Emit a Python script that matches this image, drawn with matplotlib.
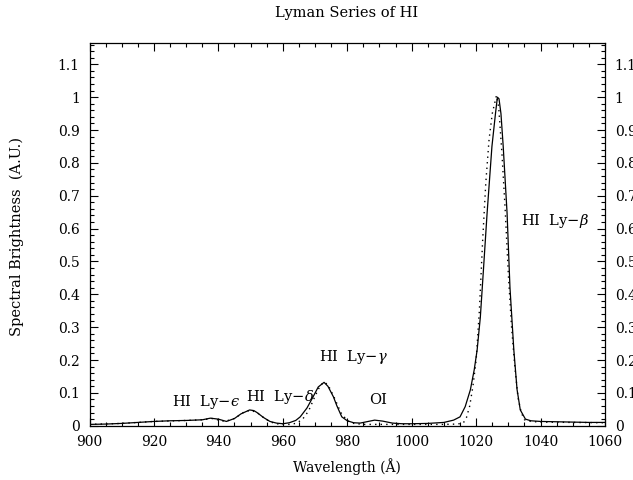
import numpy as np
import matplotlib
matplotlib.use('Agg')
import matplotlib.pyplot as plt
from matplotlib.ticker import MultipleLocator, FormatStrFormatter

# Observed spectrum (solid line)
wave_obs = [900, 905, 910, 915, 920, 925, 930, 935, 937.5, 940, 942.5, 945, 947,
            949.7, 951, 952, 954, 956, 958, 960, 962, 964, 965.4, 967.5, 969.5,
            971, 972.8, 974, 975.7, 976.8, 978.3, 980, 982, 984, 986, 988.5, 991,
            994, 997, 1000, 1005, 1010, 1013, 1015, 1016.6, 1018.2, 1019.4, 1020.3,
            1021.3, 1022.3, 1023.4, 1024.9, 1026, 1026.6, 1027.1, 1027.7, 1028.4,
            1029.6, 1030.5, 1031.7, 1032.7, 1033.7, 1035.3, 1037, 1040, 1045, 1050,
            1055, 1060]
flux_obs = [0.004, 0.005, 0.007, 0.010, 0.013, 0.015, 0.016, 0.018, 0.023, 0.020,
            0.013, 0.022, 0.036, 0.048, 0.046, 0.040, 0.025, 0.013, 0.008, 0.006,
            0.009, 0.016, 0.027, 0.054, 0.090, 0.118, 0.132, 0.120, 0.088, 0.060,
            0.027, 0.015, 0.009, 0.008, 0.012, 0.017, 0.014, 0.008, 0.006, 0.006,
            0.007, 0.010, 0.017, 0.027, 0.058, 0.109, 0.170, 0.230, 0.330, 0.480,
            0.647, 0.850, 0.950, 1.000, 0.995, 0.950, 0.850, 0.647, 0.420, 0.230,
            0.110, 0.048, 0.020, 0.015, 0.013, 0.012, 0.011, 0.010, 0.010]

# Model spectrum (dotted line)
wave_mod = [900, 910, 920, 930, 935, 938, 942, 945, 948, 950, 952, 954, 956, 958,
            960, 962, 964, 966, 968, 970, 971.5, 972.7, 974, 976, 978, 980, 982,
            985, 990, 1000, 1010, 1014, 1016, 1017, 1018, 1019, 1020, 1021, 1022,
            1023, 1024, 1025, 1026.3, 1027, 1028, 1029, 1030, 1031, 1032, 1033,
            1034, 1035, 1037, 1040, 1050, 1060]
flux_mod = [0.004, 0.007, 0.013, 0.016, 0.018, 0.022, 0.013, 0.022, 0.042, 0.047,
            0.040, 0.025, 0.012, 0.006, 0.004, 0.004, 0.007, 0.018, 0.045, 0.090,
            0.120, 0.133, 0.125, 0.085, 0.040, 0.015, 0.007, 0.004, 0.004, 0.004,
            0.004, 0.005, 0.008, 0.025, 0.060, 0.120, 0.200, 0.350, 0.560, 0.740,
            0.870, 0.950, 1.005, 0.970, 0.830, 0.660, 0.460, 0.300, 0.180, 0.085,
            0.040, 0.018, 0.013, 0.011, 0.010, 0.009]

# Line labels
label_text = ['HI  Ly$-ϵ$', r'HI  Ly$-\delta$', r'HI  Ly$-\gamma$',
              'OI', r'HI  Ly$-\beta$']
label_x = [936.1, 959.2, 982.0, 989.5, 1044.6]
label_y = [0.072, 0.086, 0.210, 0.078, 0.623]

plt.rcParams['font.family'] = ['DejaVu Serif']
plt.rcParams['mathtext.fontset'] = 'dejavuserif'

fig = plt.figure(figsize=(6.33, 4.8), dpi=100)
ax = fig.add_axes([0.1414, 0.1131, 0.8144, 0.7967])

ax.plot(wave_obs, flux_obs, color='black', lw=0.9)
ax.plot(wave_mod, flux_mod, color='black', lw=1.0, linestyle=(0, (1, 3)))

for t, x, y in zip(label_text, label_x, label_y):
    ax.text(x, y, t, fontsize=10.5, ha='center', va='center')

ax.set_xlim(900, 1060)
ax.set_ylim(0, 1.164)

ax.xaxis.set_major_locator(MultipleLocator(20))
ax.xaxis.set_minor_locator(MultipleLocator(5))
ax.yaxis.set_major_locator(MultipleLocator(0.1))
ax.yaxis.set_minor_locator(MultipleLocator(0.02))
ax.yaxis.set_major_formatter(FormatStrFormatter('%g'))

ax.tick_params(which='both', direction='in', top=True, right=True,
               labelright=True, labelsize=10, width=0.8, pad=7)
ax.tick_params(which='major', length=6)
ax.tick_params(which='minor', length=3)
for s in ax.spines.values():
    s.set_linewidth(0.9)

fig.text(0.548, 0.972, 'Lyman Series of HI', fontsize=10.5, ha='center', va='center')
fig.text(0.548, 0.027, 'Wavelength (Å)', fontsize=10, ha='center', va='center')
fig.text(0.027, 0.508, 'Spectral Brightness  (A.U.)', fontsize=10.5,
         ha='center', va='center', rotation=90)

fig.savefig('out.png', dpi=100)
